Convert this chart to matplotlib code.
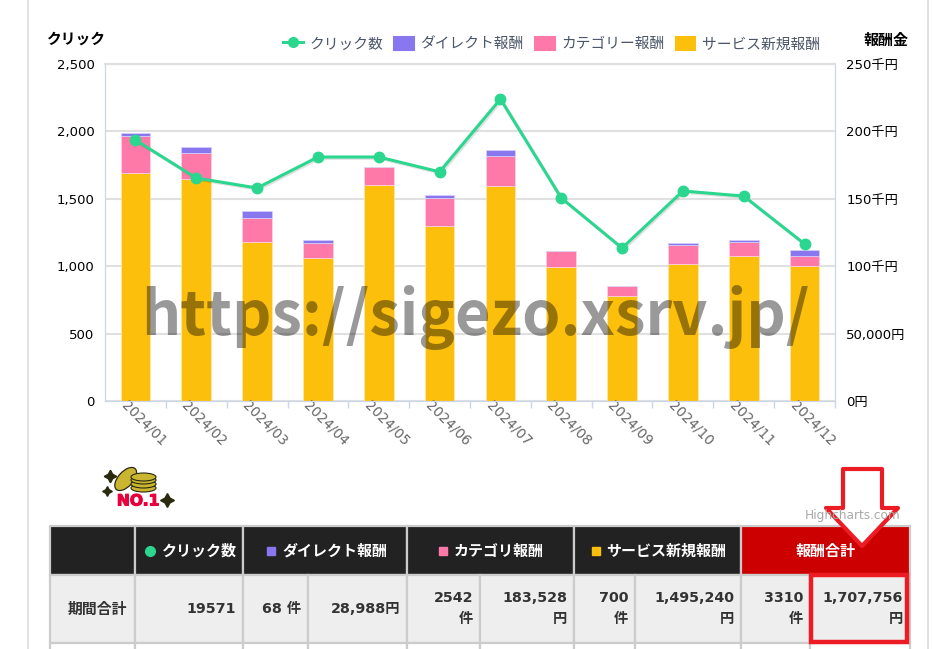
import matplotlib.pyplot as plt
import matplotlib.patheffects as pe
from matplotlib.patches import Ellipse, Patch, Polygon, Rectangle
from matplotlib.lines import Line2D
from matplotlib.transforms import ScaledTranslation

plt.rcParams['font.family'] = ['DejaVu Sans', 'Noto Sans CJK JP']

# Monthly values
months = ['2024/01', '2024/02', '2024/03', '2024/04', '2024/05', '2024/06',
          '2024/07', '2024/08', '2024/09', '2024/10', '2024/11', '2024/12']
clicks = [1936, 1654, 1580, 1810, 1810, 1700, 2240, 1506, 1135, 1558, 1520, 1165]
service = [169000, 164700, 118000, 106000, 160000, 130000, 159500, 99400, 78000, 102000, 107600, 100000]
category = [27600, 19300, 17800, 11000, 13600, 20600, 22200, 11600, 7000, 14000, 10400, 7500]
direct = [2200, 4400, 5200, 2500, 0, 2400, 4300, 0, 0, 1000, 1500, 4500]

fig = plt.figure(figsize=(9.33, 6.49), dpi=100)
ax1 = fig.add_axes([105 / 933, 1 - 401 / 649, 730 / 933, 337 / 649])
ax2 = ax1.twinx()

# Stacked bars on the reward axis
x = range(len(months))
bottom2 = [s + c for s, c in zip(service, category)]
ax2.bar(x, service, width=0.49, color='#fbbf0c', edgecolor='#fde9b0', linewidth=0.5)
ax2.bar(x, category, width=0.49, bottom=service, color='#ff79a8', edgecolor='#ffd5e4', linewidth=0.5)
ax2.bar(x, direct, width=0.49, bottom=bottom2, color='#8877ee', edgecolor='#d8d2fa', linewidth=0.5)
ax2.set_ylim(0, 250000)
ax2.set_yticks([0, 50000, 100000, 150000, 200000, 250000])
ax2.set_yticklabels(['0円', '50,000円', '100千円', '150千円', '200千円', '250千円'], fontsize=9.5)
ax2.tick_params(axis='y', length=0, pad=8)

# Click line on top of the bars
ax1.set_zorder(ax2.get_zorder() + 1)
ax1.patch.set_visible(False)
ax2.set_axisbelow(True)
ax1.plot(x, clicks, color='#2bd68f', linewidth=2.2,
         path_effects=[pe.SimpleLineShadow(offset=(1, -1), alpha=0.12), pe.Normal()])
ax1.plot(x, clicks, color='#2bd68f', linestyle='none', marker='o', markersize=7.5)
ax1.set_xlim(-0.5, 11.5)
ax1.set_ylim(0, 2500)
ax1.set_yticks([0, 500, 1000, 1500, 2000, 2500])
ax1.set_yticklabels(['0', '500', '1,000', '1,500', '2,000', '2,500'], fontsize=9.5)
ax1.tick_params(axis='y', length=0, pad=7.5)
ax2.grid(axis='y', color='#e0e0e0', linewidth=1.5)

# Month labels hang from the left edge of each bar
ax1.set_xticks(list(x))
ax1.set_xticklabels(months, rotation=-45, ha='left', va='top', rotation_mode='anchor',
                    fontsize=9.9, color='#666666')
ax1.tick_params(axis='x', length=0, pad=-1.8)
offset = ScaledTranslation(-7 / 100, 0, fig.dpi_scale_trans)
for label in ax1.get_xticklabels():
    label.set_transform(label.get_transform() + offset)
ax1.set_xticks([i + 0.5 for i in x], minor=True)
ax1.tick_params(axis='x', which='minor', length=5, width=1, color='#ccd6eb')

for ax in (ax1, ax2):
    for side in ('left', 'right', 'bottom'):
        ax.spines[side].set_color('#ccd6eb')
    ax.spines['top'].set_color('#e0e0e0')
    ax.spines['top'].set_linewidth(1.5)

# Legend above the plot
handles = [
    Line2D([], [], color='#2bd68f', linewidth=2.2, marker='o', markersize=7),
    Patch(facecolor='#8877ee', edgecolor='#8877ee', linewidth=1.5, joinstyle='round'),
    Patch(facecolor='#ff79a8', edgecolor='#ff79a8', linewidth=1.5, joinstyle='round'),
    Patch(facecolor='#fbbf0c', edgecolor='#fbbf0c', linewidth=1.5, joinstyle='round'),
]
fig.legend(handles, ['クリック数', 'ダイレクト報酬', 'カテゴリー報酬', 'サービス新規報酬'],
           loc='center right', bbox_to_anchor=(820 / 933, 1 - 44 / 649), ncol=4, frameon=False,
           prop={'family': 'Noto Sans CJK JP', 'size': 10.6}, labelcolor='#4a5568', borderpad=0,
           borderaxespad=0, handlelength=1.35, handleheight=1.05, handletextpad=0.45, columnspacing=0.75)

# Everything else is placed in pixels of the screenshot
page = fig.add_axes([0, 0, 1, 1], zorder=10)
page.set_xlim(0, 933)
page.set_ylim(649, 0)
page.axis('off')
page.plot([28, 28], [0, 649], color='#dddddd', linewidth=1.2)
page.plot([928, 928], [0, 649], color='#dddddd', linewidth=1.2)

page.text(76, 39, 'クリック', fontsize=10.6, fontweight='bold', ha='center', va='center', family='Noto Sans CJK JP')
page.text(886, 40, '報酬金', fontsize=10.8, fontweight='bold', ha='center', va='center', family='Noto Sans CJK JP')

# Watermark
page.text(475, 335, 'https://sigezo.xsrv.jp/', fontsize=44.2, fontweight='bold', color='black', alpha=0.4,
          ha='center', va='baseline', family='Noto Sans CJK JP')

# Coin icon
page.plot(110, 476, marker=(4, 1, 0), markersize=9, color='#2a2a10')
page.plot(107, 491, marker=(4, 1, 0), markersize=7, color='#2a2a10')
page.plot(167, 500, marker=(4, 1, 0), markersize=10, color='#2a2a10')
page.add_patch(Ellipse((125.7, 479), 15, 28, angle=42, facecolor='#c9b52f', edgecolor='#2a2a10', linewidth=0.9))
for py in (488, 484, 480, 477):
    page.add_patch(Ellipse((143.5, py), 25, 8, facecolor='#c9b52f', edgecolor='#2a2a10', linewidth=0.8))
page.text(138, 501, 'NO.1', fontsize=11.2, fontweight='heavy', color='#e8003c', ha='center', va='center',
          path_effects=[pe.withStroke(linewidth=0.8, foreground='#e8003c')])

# Table
header_edges = [50, 135, 243, 407, 574, 741, 910]
header_text = ['', 'クリック数', 'ダイレクト報酬', 'カテゴリ報酬', 'サービス新規報酬', '報酬合計']
header_mark = [None, '#2bd68f', '#8877ee', '#ff79a8', '#fbbf0c', None]
header_mark_x = [0, 150, 271, 443, 596, 0]
header_text_x = [0, 199.5, 334.5, 499, 666.5, 825.5]
row_edges = [50, 135, 243, 308, 407, 480, 574, 635, 741, 810, 910]
row_text = [['期間合計'], ['19571'], ['68 件'], ['28,988円'], ['2542', '件'], ['183,528', '円'],
            ['700', '件'], ['1,495,240', '円'], ['3310', '件'], ['1,707,756', '円']]

for i, label in enumerate(header_text):
    left, right = header_edges[i], header_edges[i + 1]
    color = '#cc0000' if label == '報酬合計' else '#222222'
    page.add_patch(Rectangle((left, 526), right - left, 49, facecolor=color, edgecolor='#cccccc', linewidth=1.6))
    if label:
        page.text(header_text_x[i], 550.5, label, color='white', fontsize=10.8, fontweight='bold', ha='center',
                  va='center', family='Noto Sans CJK JP')
for i, color in enumerate(header_mark):
    if color:
        marker = 'o' if i == 1 else 's'
        page.plot(header_mark_x[i], 551, marker=marker, color=color, markersize=7 if i == 1 else 6)

for i, lines in enumerate(row_text):
    left, right = row_edges[i], row_edges[i + 1]
    page.add_patch(Rectangle((left, 575), right - left, 68, facecolor='#eeeeee', edgecolor='#cccccc', linewidth=1.6))
    page.add_patch(Rectangle((left, 643), right - left, 12, facecolor='white', edgecolor='#cccccc', linewidth=1.6))
    if i == 0:
        page.text(right - 8, 609, lines[0], color='#333333', fontsize=10.7, fontweight='bold', ha='right', va='center',
                  family='Noto Sans CJK JP')
    elif len(lines) == 1:
        page.text(right - 7, 609, lines[0], color='#333333', fontsize=10.3, fontweight='bold', ha='right', va='center')
    else:
        page.text(right - 7, 598, lines[0], color='#333333', fontsize=10.3, fontweight='bold', ha='right', va='center')
        page.text(right - 7, 619, lines[1], color='#333333', fontsize=10.3, fontweight='bold', ha='right', va='center')

# Credit, mostly hidden by the arrow
page.text(900, 516, 'Highcharts.com', color='#a8a8a8', fontsize=8.7, ha='right', va='center')

# Red annotation
page.add_patch(Polygon([(843, 469), (882, 469), (882, 508), (898, 508), (862, 546), (826, 508), (843, 508)],
                       facecolor='white', edgecolor='#ed1c24', linewidth=3, joinstyle='round'))
page.add_patch(Rectangle((811, 575), 96, 67, facecolor='none', edgecolor='#ed1c24', linewidth=3.2))

plt.savefig('out.png', dpi=100)
